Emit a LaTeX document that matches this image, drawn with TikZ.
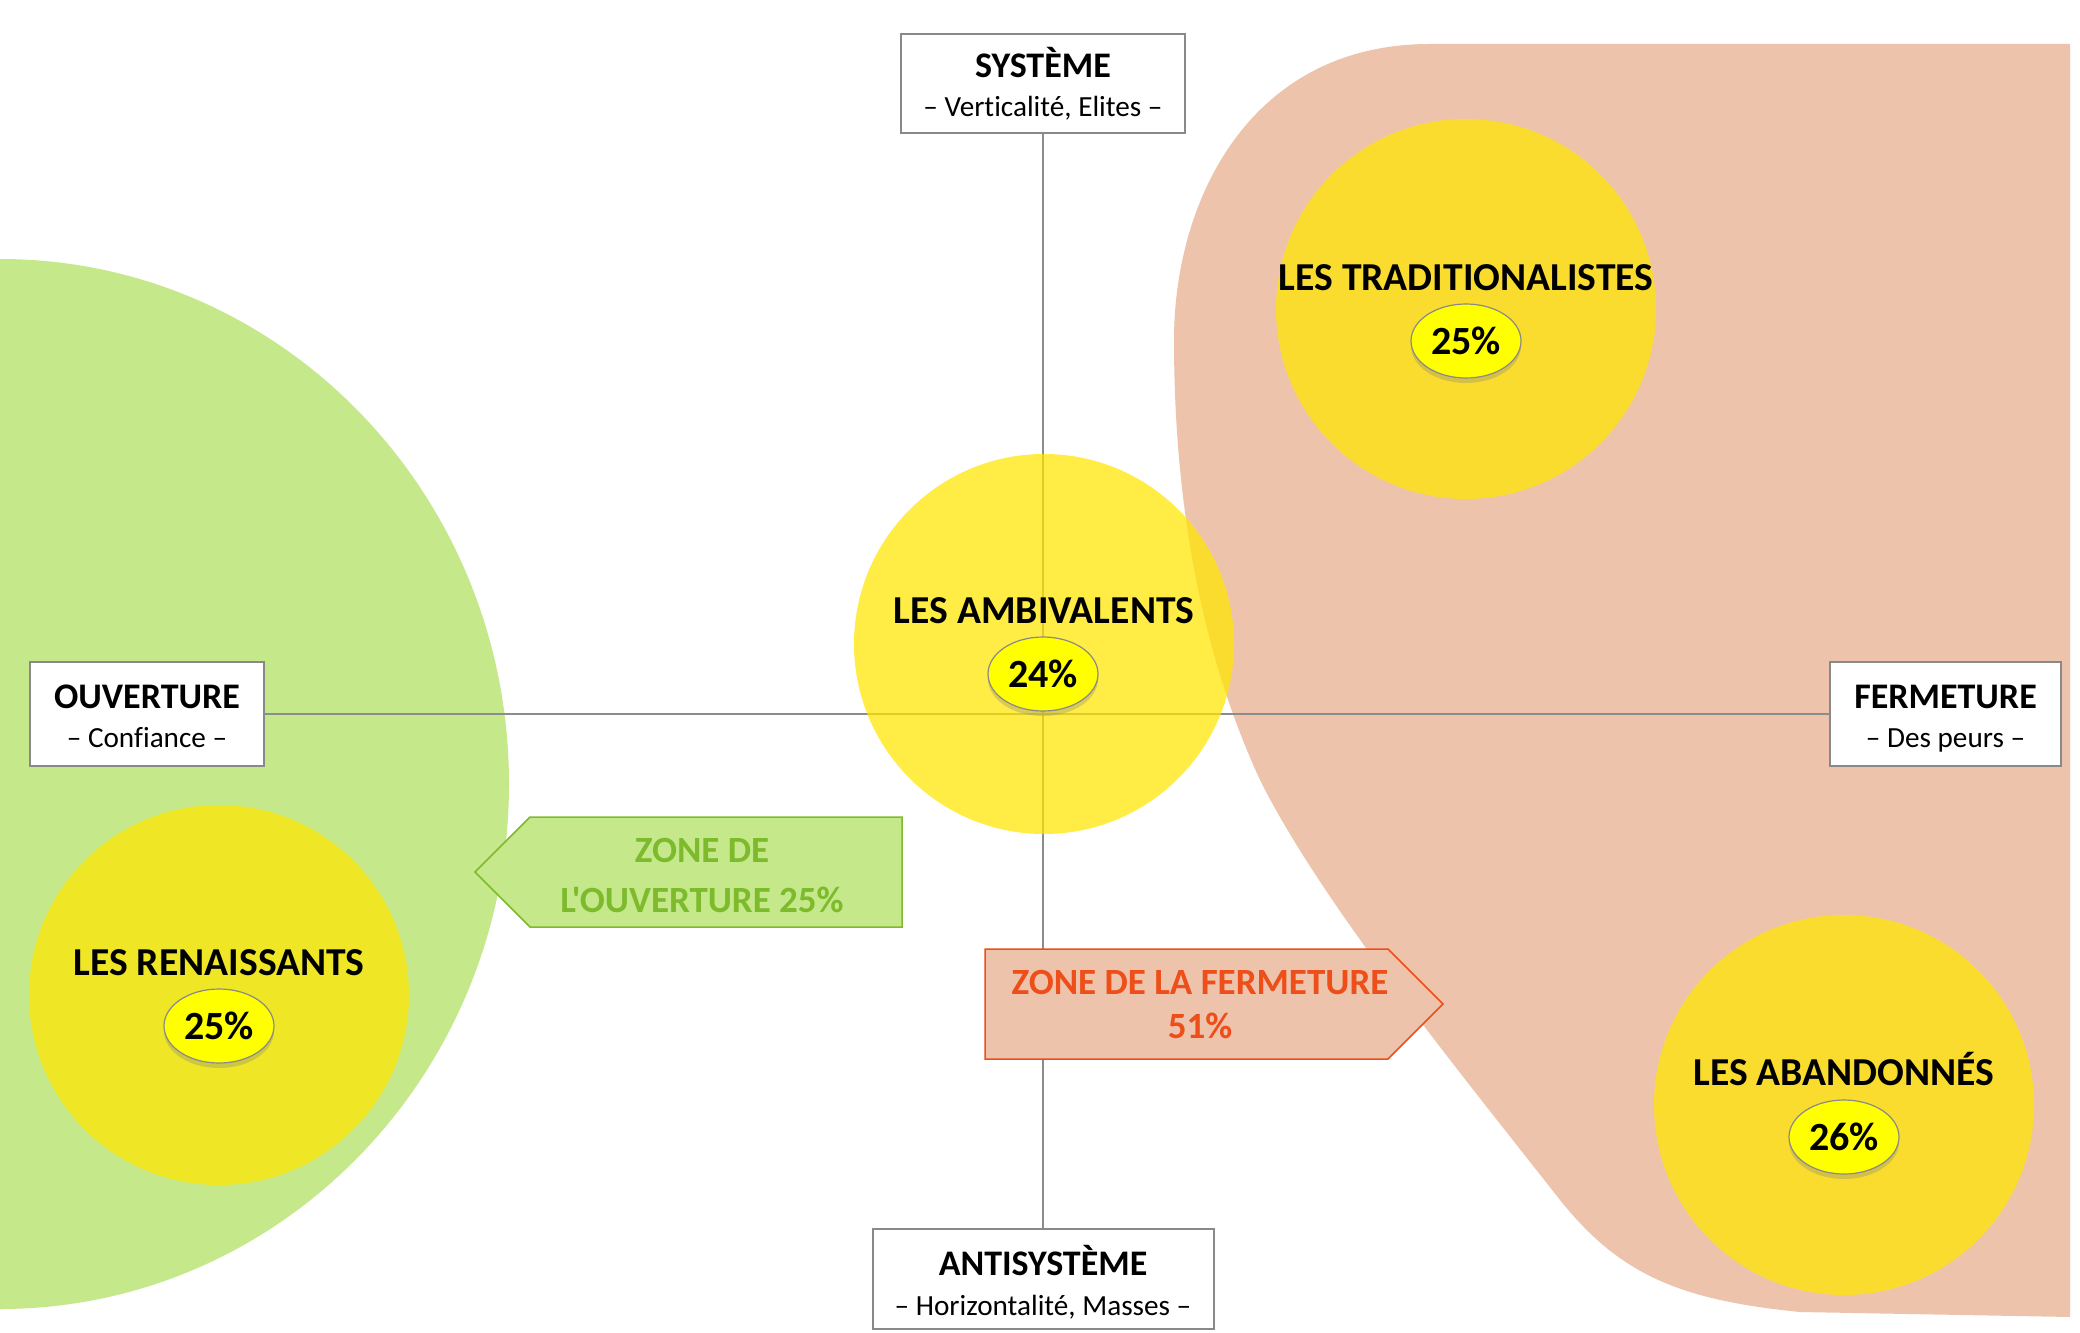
\documentclass[tikz,border=0pt]{standalone}
\usepackage{fontspec}
\setmainfont{Carlito}[Ligatures={TeXOff,NoCommon}]
\usetikzlibrary{shapes.geometric,shadows}
\definecolor{greenzone}{RGB}{197,232,138}
\definecolor{salmonzone}{RGB}{237,196,171}
\definecolor{grpyellow}{RGB}{255,230,0}
\definecolor{pctyellow}{RGB}{255,255,0}
\definecolor{axisgray}{RGB}{140,140,140}
\definecolor{boxgray}{RGB}{137,137,137}
\definecolor{greentext}{RGB}{125,187,45}
\definecolor{greenborder}{RGB}{125,187,45}
\definecolor{redtext}{RGB}{238,78,25}
\begin{document}
\begin{tikzpicture}[x=0.5pt,y=-0.5pt,
  axisbox/.style={draw=boxgray, line width=1pt, fill=white, inner sep=0pt, align=center,
    font=\bfseries\fontsize{18}{19.5}\selectfont, text height=36pt, text depth=3pt},
  axisline/.style={draw=axisgray, line width=0.75pt},
  grp/.style={circle, fill=grpyellow, fill opacity=0.73, minimum size=190pt, inner sep=0pt},
  grplabel/.style={font=\bfseries\fontsize{19.8}{24}\selectfont, inner sep=0pt, anchor=base},
  pct/.style={ellipse, draw=boxgray, line width=0.6pt, fill=pctyellow, minimum width=55pt,
    minimum height=37pt, inner sep=0pt, font=\bfseries\fontsize{20}{24}\selectfont,
    drop shadow={shadow xshift=0pt, shadow yshift=-2.5pt, opacity=0.3}},
  zonetext/.style={font=\bfseries\fontsize{18.5}{22}\selectfont, align=center, inner sep=0pt}
]
\fill[white] (0,0) rectangle (2080,1332);
\useasboundingbox (0,0) rectangle (2080,1332);
\clip (0,0) rectangle (2080,1332);

% background zones
\fill[greenzone] (0,784) ellipse [x radius=509, y radius=525];
\fill[salmonzone] (2070,44) -- (1430,44) .. controls (1250,44) and (1174,200) .. (1174,340)
  .. controls (1174,500) and (1200,650) .. (1260,780)
  .. controls (1320,900) and (1450,1060) .. (1560,1200)
  .. controls (1620,1275) and (1680,1300) .. (1800,1312) -- (2070,1317) -- cycle;

% axis boxes
\node[axisbox, minimum width=142pt, minimum height=49.5pt] (sys) at (1043,83.5)
  {SYSTÈME\\{\normalfont\fontsize{14.6}{19.5}\selectfont – Verticalité, Elites –}};
\node[axisbox, minimum width=170.5pt, minimum height=50pt, text height=39pt, text depth=3pt,
  font=\bfseries\fontsize{18}{20}\selectfont] (anti) at (1043,1279)
  {ANTISYSTÈME\\{\normalfont\fontsize{14.6}{20}\selectfont – Horizontalité, Masses –}};
\node[axisbox, minimum width=117pt, minimum height=52pt] (ouv) at (147,714)
  {OUVERTURE\\{\normalfont\fontsize{14.6}{19.5}\selectfont – Confiance –}};
\node[axisbox, minimum width=115.5pt, minimum height=52pt] (fer) at (1945.5,714)
  {FERMETURE\\{\normalfont\fontsize{14.6}{19.5}\selectfont – Des peurs –}};

% axes
\draw[axisline] (sys.south) -- (anti.north);
\draw[axisline] (ouv.east) -- (fer.west);

% zone arrows
\coordinate (ouvtip) at (475,872);
\fill[greenzone, draw=greenborder, line width=0.75pt]
  (ouvtip) -- (530,817) -- (902,817) -- (902,927) -- (530,927) -- cycle;
\node[zonetext, text=greentext] (zoneouv) at (702,876) {ZONE DE\\[3pt]L'OUVERTURE 25\%};
\coordinate (fertip) at (1443,1004);
\fill[salmonzone, draw=redtext, line width=0.75pt]
  (985,949) -- (1388,949) -- (fertip) -- (1388,1059) -- (985,1059) -- cycle;
\node[zonetext, text=redtext] (zonefer) at (1200,1005) {ZONE DE LA FERMETURE\\51\%};

% groups
\node[grp] (amb) at (1044,644) {};
\node[grp] (trad) at (1466,309) {};
\node[grp] (ren) at (219,995) {};
\node[grp] (aba) at (1844,1105) {};

\node[grplabel] (ambl) at (1044,623) {LES AMBIVALENTS};
\node[grplabel] (tradl) at (1466,290) {LES TRADITIONALISTES};
\node[grplabel] (renl) at (219,975) {LES RENAISSANTS};
\node[grplabel] (abal) at (1844,1085) {LES ABANDONNÉS};

\node[pct] (ambp) at (1043,674) {24\%};
\node[pct] (tradp) at (1466,341) {25\%};
\node[pct] (renp) at (219,1026) {25\%};
\node[pct] (abap) at (1844,1137) {26\%};
\end{tikzpicture}
\end{document}
